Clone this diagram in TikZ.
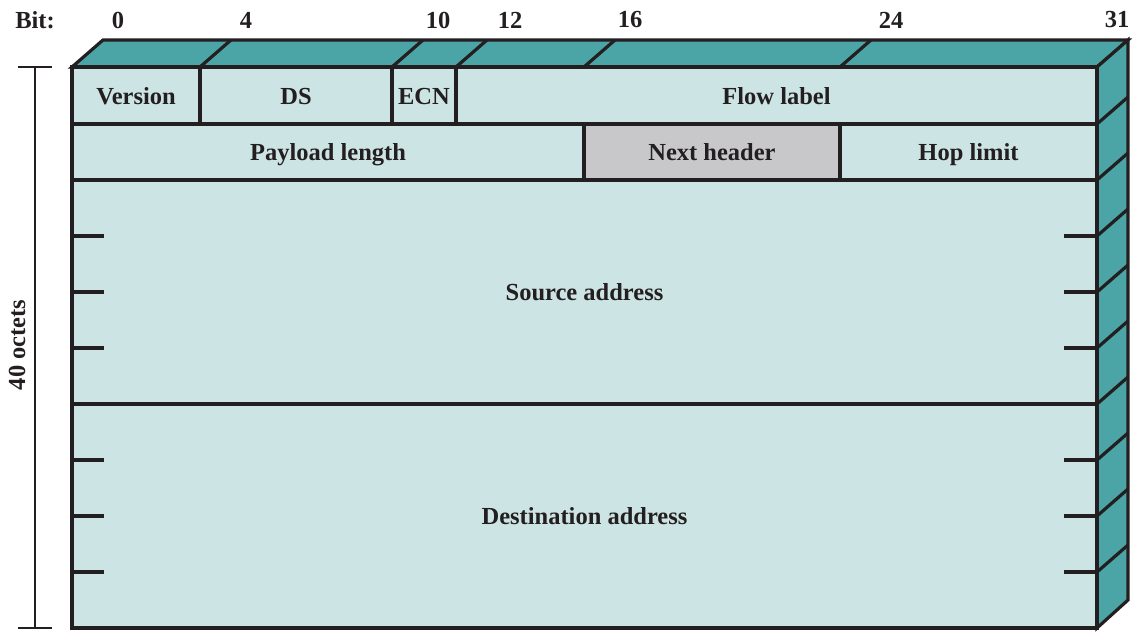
\documentclass[tikz,border=0pt]{standalone}
\usepackage{fontspec}
\setmainfont{Liberation Serif}
\definecolor{ink}{HTML}{231F20}
\definecolor{teal3d}{HTML}{4BA5A6}
\definecolor{light}{HTML}{CDE4E4}
\definecolor{grayf}{HTML}{C8C8CA}
\begin{document}
\begin{tikzpicture}[x=1pt,y=-1pt,
  lw/.style={line width=3.2pt},
  txt/.style={font=\fontsize{24.5}{28}\selectfont\bfseries, text=ink},
  field/.style={draw=ink, lw, fill=light, inner sep=0pt, outer sep=0pt, anchor=north west, txt, text height=18pt, text depth=1pt},
  face/.style={draw=ink, lw, fill=teal3d, line join=miter},
  tick/.style={draw=ink, lw},
  dim/.style={draw=ink, line width=1.1pt},
  bitlbl/.style={txt, inner sep=0pt}]
\useasboundingbox (0,0) rectangle (1146,643);
% 3D faces
\filldraw[face] (72,67) -- (103,40) -- (1128,40) -- (1097,67) -- cycle;
\filldraw[face] (1097,67) -- (1128,40) -- (1128,600) -- (1097,628) -- cycle;
\foreach \x in {200,392,456,584,840} \draw[tick] (\x,67) -- (\x+31,40);
\foreach \y in {124,180,236,292,348,404,460,516,572} \draw[tick] (1097,\y) -- (1128,\y-27);
% fields
\node[field, minimum width=128pt, minimum height=57pt] (ver) at (72,67) {Version};
\node[field, minimum width=192pt, minimum height=57pt] (ds) at (200,67) {DS};
\node[field, minimum width=64pt, minimum height=57pt] (ecn) at (392,67) {ECN};
\node[field, minimum width=641pt, minimum height=57pt] (flow) at (456,67) {Flow label};
\node[field, minimum width=512pt, minimum height=56pt] (pay) at (72,124) {Payload length};
\node[field, fill=grayf, minimum width=256pt, minimum height=56pt] (next) at (584,124) {Next header};
\node[field, minimum width=257pt, minimum height=56pt] (hop) at (840,124) {Hop limit};
\node[field, minimum width=1025pt, minimum height=224pt] (src) at (72,180) {Source address};
\node[field, minimum width=1025pt, minimum height=224pt] (dst) at (72,404) {Destination address};
% ticks
\foreach \y in {236,292,348,460,516,572} {
  \draw[tick] (72,\y) -- (104,\y);
  \draw[tick] (1064,\y) -- (1097,\y);
}
% dimension
\coordinate (dt) at (35,67);
\coordinate (db) at (35,628);
\draw[dim] (dt) -- (db);
\draw[dim] (18,67) -- (52,67);
\draw[dim] (18,628) -- (52,628);
\node[txt, rotate=90] (oct) at (17,345) {40 octets};
% bit labels
\node[bitlbl] (bit) at (35,20) {Bit:};
\node[bitlbl] (b0) at (118,20) {0};
\node[bitlbl] (b4) at (246,20) {4};
\node[bitlbl] (b10) at (438,20) {10};
\node[bitlbl] (b12) at (510,20) {12};
\node[bitlbl] (b16) at (630,20) {16};
\node[bitlbl] (b24) at (891,20) {24};
\node[bitlbl] (b31) at (1117,20) {31};
\end{tikzpicture}
\end{document}
